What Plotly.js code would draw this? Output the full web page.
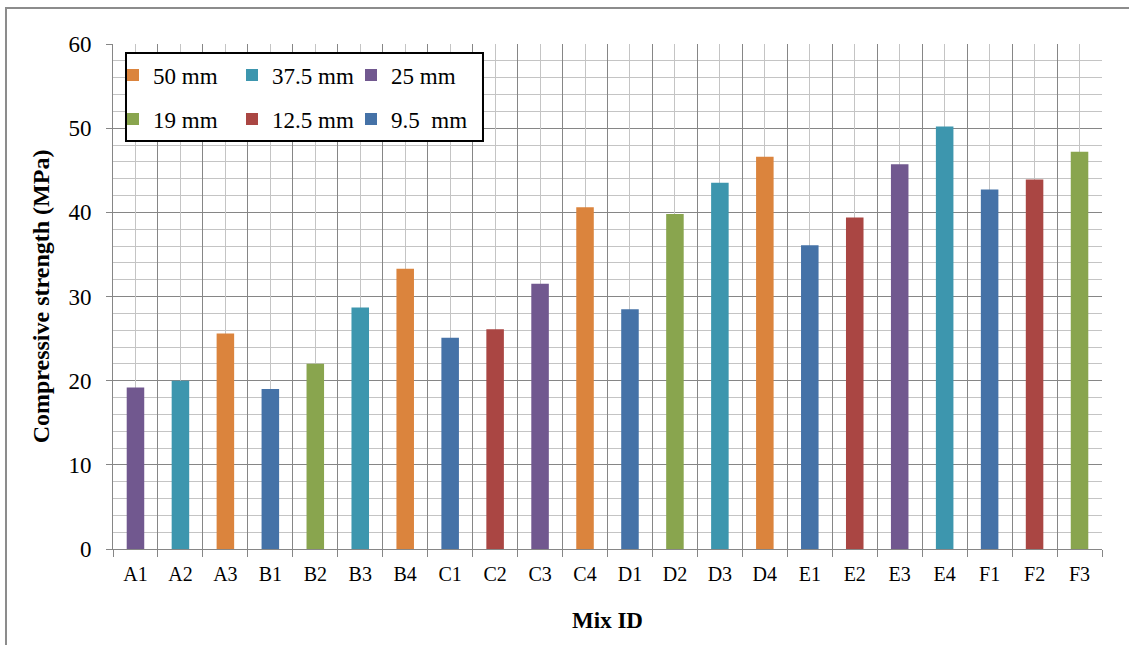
<!DOCTYPE html>
<html>
<head>
<meta charset="utf-8">
<script src="https://cdn.plot.ly/plotly-3.0.1.min.js"></script>
<style>html,body{margin:0;padding:0;background:#fff;}#chart{width:1129px;height:645px;}</style>
</head>
<body>
<div id="chart"></div>
<script>
// ---- data ----
var categories = ["A1","A2","A3","B1","B2","B3","B4","C1","C2","C3","C4","D1","D2","D3","D4","E1","E2","E3","E4","F1","F2","F3"];
var strength   = [19.2, 20.0, 25.6, 19.0, 22.0, 28.7, 33.3, 25.1, 26.1, 31.5, 40.6, 28.5, 39.8, 43.5, 46.6, 36.1, 39.4, 45.7, 50.2, 42.7, 43.9, 47.2];
var aggSize    = ["25 mm","37.5 mm","50 mm","9.5  mm","19 mm","37.5 mm","50 mm","9.5  mm","12.5 mm","25 mm","50 mm","9.5  mm","19 mm","37.5 mm","50 mm","9.5  mm","12.5 mm","25 mm","37.5 mm","9.5  mm","12.5 mm","19 mm"];
var sizeNames  = ["50 mm","37.5 mm","25 mm","19 mm","12.5 mm","9.5  mm"];
var sizeColors = ["#DB843D","#3D96AE","#71588F","#89A54E","#AA4643","#4572A7"];
var yTickVals  = [0,10,20,30,40,50,60];

var serif = "Liberation Serif, Times New Roman, serif";
var traces = sizeNames.map(function(name, k){
  var xs = [], ys = [];
  categories.forEach(function(c, i){ if(aggSize[i] === name){ xs.push(c); ys.push(strength[i]); } });
  return {
    type: "bar", name: name, x: xs, y: ys, width: 0.39,
    marker: {color: sizeColors[k], line: {width: 0}},
    legend: k < 3 ? "legend" : "legend2",
    hoverinfo: "x+y"
  };
});
// helper trace for center gridlines (invisible)
traces.push({type:"scatter", x:[0], y:[0], xaxis:"x2", mode:"markers", marker:{opacity:0}, showlegend:false, hoverinfo:"skip"});

var legendCommon = {
  orientation: "h", bgcolor: "rgba(0,0,0,0)", borderwidth: 0,
  font: {family: serif, size: 23, color: "#000"},
  entrywidth: 74, entrywidthmode: "pixels",
  xanchor: "left", yanchor: "middle", x: 0.0
};

var layout = {
  width: 1129, height: 645,
  margin: {l: 113, r: 27, t: 44, b: 96, pad: 0},
  paper_bgcolor: "#fff", plot_bgcolor: "#fff",
  barmode: "overlay",
  font: {family: serif, color: "#000"},
  showlegend: true,
  legend: Object.assign({}, legendCommon, {y: 0.9386}),
  legend2: Object.assign({}, legendCommon, {y: 0.8515}),
  xaxis: {
    type: "category", categoryorder: "array", categoryarray: categories,
    range: [-0.5, categories.length - 0.5],
    tickson: "boundaries", ticks: "outside", ticklen: 7, tickcolor: "#868686",
    showgrid: true, gridcolor: "#868686", gridwidth: 1,
    showline: true, linecolor: "#868686", linewidth: 1,
    tickfont: {family: serif, size: 20, color: "#000"},
    ticklabelstandoff: 7,
    title: {text: "<b>Mix ID</b>", font: {family: serif, size: 23, color: "#000"}, standoff: 27},
    zeroline: false, fixedrange: true
  },
  xaxis2: {
    overlaying: "x", anchor: "y", range: [-0.5, categories.length - 0.5],
    tick0: 0, dtick: 1, showgrid: true, gridcolor: "#c4c4c4", gridwidth: 1,
    showticklabels: false, ticks: "", zeroline: false, showline: false
  },
  yaxis: {
    range: [0, 60], tickvals: yTickVals, ticks: "outside", ticklen: 6, tickcolor: "#868686",
    showgrid: true, gridcolor: "#868686", gridwidth: 1,
    minor: {dtick: 2, tick0: 0, showgrid: true, gridcolor: "#c4c4c4", gridwidth: 1, ticks: ""},
    showline: true, linecolor: "#868686", linewidth: 1,
    tickfont: {family: serif, size: 23, color: "#000"},
    ticklabelstandoff: 10,
    title: {text: "<b>Compressive strength (MPa)</b>", font: {family: serif, size: 24, color: "#000"}, standoff: 12},
    zeroline: false, fixedrange: true
  },
  shapes: [
    {type: "rect", xref: "paper", yref: "paper", x0: 0.01314, x1: 0.3741, y0: 0.8079, y1: 0.9822,
     line: {color: "#000", width: 2}, fillcolor: "#fff", layer: "above"},
    {type: "rect", xref: "paper", yref: "paper", x0: -0.1082, x1: 1.2, y0: -0.4, y1: 1.0713,
     line: {color: "#8c8c8c", width: 2}, fillcolor: "rgba(0,0,0,0)", layer: "below"}
  ]
};

Plotly.newPlot("chart", traces, layout, {displayModeBar: false, staticPlot: true});
</script>
</body>
</html>
